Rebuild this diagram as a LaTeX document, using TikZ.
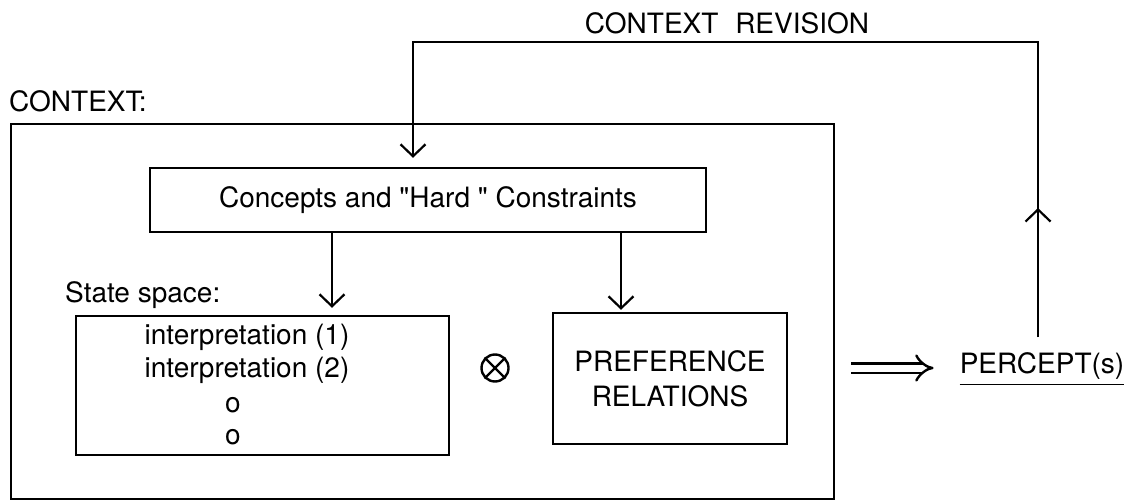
\documentclass[tikz,border=0pt]{standalone}
\usepackage{fontspec}
\newfontfamily\heros{TeX Gyre Heros}
\usetikzlibrary{arrows.meta}
\begin{document}
\begin{tikzpicture}[x=1pt,y=-1pt,
  every node/.style={font=\heros\fontsize{28}{35}\selectfont},
  frame/.style={draw, line width=2.4pt, inner sep=0pt},
  txt/.style={inner sep=0pt},
  link/.style={line width=2.2pt, -{Straight Barb[length=12pt,width=25pt,line width=2.2pt]}},
]
\useasboundingbox (0,0) rectangle (1131,502);

% context frame and its heading
\node[frame, minimum width=823pt, minimum height=375pt] (context) at (422.5,311.5) {};
\node[txt, anchor=west] (ctxlabel) at (9,101) {CONTEXT:};

% concepts box
\node[frame, minimum width=556pt, minimum height=64pt] (concepts) at (428,200) {Concepts and "Hard " Constraints};

% state space
\node[txt, anchor=west] (sslabel) at (65,295) {State space:};
\node[frame, minimum width=373pt, minimum height=139pt] (states) at (262.5,385.5) {};
\node[txt] (int1) at (247,337) {interpretation (1)};
\node[txt] (int2) at (247,370) {interpretation (2)};
\node[txt] (dot1) at (233,405) {o};
\node[txt] (dot2) at (233,437) {o};

% product sign
\node[circle, draw, line width=2.4pt, minimum size=27pt, inner sep=0pt] (times) at (495,368) {};
\draw[line width=2.4pt] (times.north west) -- (times.south east)
                        (times.north east) -- (times.south west);

% preference relations
\node[frame, minimum width=234pt, minimum height=131pt, align=center] (pref) at (670,378.5) {PREFERENCE\\RELATIONS};

% percepts
\node[txt] (percept) at (1042,366) {PERCEPT(s)};
\draw[line width=1.8pt] ([yshift=-11pt]percept.base west) -- ([yshift=-11pt]percept.base east);

% revision loop
\node[txt] (revision) at (727,23) {CONTEXT\hspace{0.6em}REVISION};
\coordinate (fbR) at (1038,42);
\coordinate (fbL) at (413,42);
\coordinate (fbB) at (1038,337);
\coordinate (fbMid) at (1038,208);
\draw[link, shorten >=9pt] (fbB) -- (fbR) -- (fbL) -- (fbL |- concepts.north);
\draw[link] (fbB) -- (fbMid);

% arrows out of the concepts box
\coordinate (dropA) at (332,0);
\coordinate (dropB) at (621,0);
\draw[link, shorten >=7pt] (concepts.south -| dropA) -- (states.north -| dropA);
\draw[link, shorten >=2pt] (concepts.south -| dropB) -- (pref.north -| dropB);

% result arrow
\draw[double, double distance=7pt, line width=2.4pt, -{Implies[length=12pt]}, shorten <=16pt, shorten >=26pt]
  (context.east |- times) -- (percept.west |- times);
\end{tikzpicture}
\end{document}
